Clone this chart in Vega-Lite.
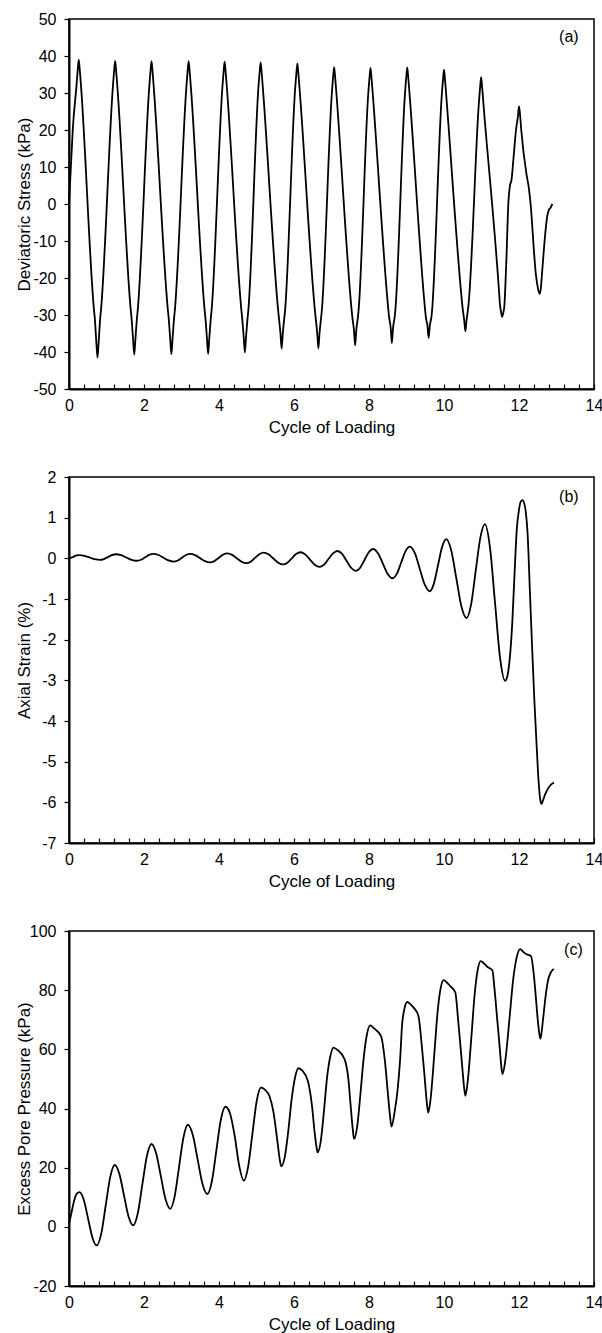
{
"$schema": "https://vega.github.io/schema/vega-lite/v6.json",
"padding": {"left": 14, "top": 10, "right": 6, "bottom": 2},
"background": "white",
"spacing": 88,
"bounds": "flush",
"datasets": {
"stress": [
{"cycle":0,"stress":0},{"cycle":0.05,"stress":10},{"cycle":0.1,"stress":20},{"cycle":0.2,"stress":32},{"cycle":0.235,"stress":36.5},{"cycle":0.26,"stress":39},
{"cycle":0.285,"stress":36.5},{"cycle":0.32,"stress":32},{"cycle":0.67,"stress":-29},{"cycle":0.685,"stress":-30.5},{"cycle":0.73,"stress":-37.5},{"cycle":0.76,"stress":-41.5},
{"cycle":0.79,"stress":-37.5},{"cycle":0.835,"stress":-30.5},{"cycle":0.85,"stress":-29},{"cycle":1.17,"stress":31.7},{"cycle":1.205,"stress":36.2},{"cycle":1.23,"stress":38.7},
{"cycle":1.255,"stress":36.2},{"cycle":1.29,"stress":31.7},{"cycle":1.65,"stress":-29},{"cycle":1.665,"stress":-30.5},{"cycle":1.71,"stress":-36.7},{"cycle":1.74,"stress":-40.7},
{"cycle":1.77,"stress":-36.7},{"cycle":1.815,"stress":-30.5},{"cycle":1.83,"stress":-29},{"cycle":2.14,"stress":31.6},{"cycle":2.175,"stress":36.1},{"cycle":2.2,"stress":38.6},
{"cycle":2.225,"stress":36.1},{"cycle":2.26,"stress":31.6},{"cycle":2.64,"stress":-29},{"cycle":2.655,"stress":-30.5},{"cycle":2.7,"stress":-36.6},{"cycle":2.73,"stress":-40.6},
{"cycle":2.76,"stress":-36.6},{"cycle":2.805,"stress":-30.5},{"cycle":2.82,"stress":-29},{"cycle":3.13,"stress":31.6},{"cycle":3.165,"stress":36.1},{"cycle":3.19,"stress":38.6},
{"cycle":3.215,"stress":36.1},{"cycle":3.25,"stress":31.6},{"cycle":3.62,"stress":-29},{"cycle":3.635,"stress":-30.5},{"cycle":3.68,"stress":-36.5},{"cycle":3.71,"stress":-40.5},
{"cycle":3.74,"stress":-36.5},{"cycle":3.785,"stress":-30.5},{"cycle":3.8,"stress":-29},{"cycle":4.09,"stress":31.5},{"cycle":4.125,"stress":36},{"cycle":4.15,"stress":38.5},
{"cycle":4.175,"stress":36},{"cycle":4.21,"stress":31.5},{"cycle":4.6,"stress":-29},{"cycle":4.615,"stress":-30.5},{"cycle":4.66,"stress":-36.1},{"cycle":4.69,"stress":-40.1},
{"cycle":4.72,"stress":-36.1},{"cycle":4.765,"stress":-30.5},{"cycle":4.78,"stress":-29},{"cycle":5.05,"stress":31.3},{"cycle":5.085,"stress":35.8},{"cycle":5.11,"stress":38.3},
{"cycle":5.135,"stress":35.8},{"cycle":5.17,"stress":31.3},{"cycle":5.58,"stress":-29},{"cycle":5.595,"stress":-30.5},{"cycle":5.64,"stress":-35.1},{"cycle":5.67,"stress":-39.1},
{"cycle":5.7,"stress":-35.1},{"cycle":5.745,"stress":-30.5},{"cycle":5.76,"stress":-29},{"cycle":6.03,"stress":31},{"cycle":6.065,"stress":35.5},{"cycle":6.09,"stress":38},
{"cycle":6.115,"stress":35.5},{"cycle":6.15,"stress":31},{"cycle":6.56,"stress":-29},{"cycle":6.575,"stress":-30.5},{"cycle":6.62,"stress":-35},{"cycle":6.65,"stress":-39},
{"cycle":6.68,"stress":-35},{"cycle":6.725,"stress":-30.5},{"cycle":6.74,"stress":-29},{"cycle":7.01,"stress":30},{"cycle":7.045,"stress":34.5},{"cycle":7.07,"stress":37},
{"cycle":7.095,"stress":34.5},{"cycle":7.13,"stress":30},{"cycle":7.54,"stress":-29},{"cycle":7.555,"stress":-30.5},{"cycle":7.6,"stress":-34.2},{"cycle":7.63,"stress":-38.2},
{"cycle":7.66,"stress":-34.2},{"cycle":7.705,"stress":-30.5},{"cycle":7.72,"stress":-29},{"cycle":7.98,"stress":29.8},{"cycle":8.015,"stress":34.3},{"cycle":8.04,"stress":36.8},
{"cycle":8.065,"stress":34.3},{"cycle":8.1,"stress":29.8},{"cycle":8.52,"stress":-29},{"cycle":8.535,"stress":-30.5},{"cycle":8.58,"stress":-33.6},{"cycle":8.61,"stress":-37.6},
{"cycle":8.64,"stress":-33.6},{"cycle":8.685,"stress":-30.5},{"cycle":8.7,"stress":-29},{"cycle":8.96,"stress":29.9},{"cycle":8.995,"stress":34.4},{"cycle":9.02,"stress":36.9},
{"cycle":9.045,"stress":34.4},{"cycle":9.08,"stress":29.9},{"cycle":9.5,"stress":-29},{"cycle":9.515,"stress":-30.5},{"cycle":9.56,"stress":-33},{"cycle":9.59,"stress":-36.2},
{"cycle":9.62,"stress":-33},{"cycle":9.665,"stress":-30.5},{"cycle":9.68,"stress":-29},{"cycle":9.94,"stress":29.3},{"cycle":9.975,"stress":33.8},{"cycle":10.0,"stress":36.3},
{"cycle":10.025,"stress":33.8},{"cycle":10.06,"stress":29.3},{"cycle":10.48,"stress":-26.5},{"cycle":10.495,"stress":-28},{"cycle":10.54,"stress":-31.5},{"cycle":10.57,"stress":-34.4},
{"cycle":10.6,"stress":-31.5},{"cycle":10.645,"stress":-28},{"cycle":10.66,"stress":-26.5},{"cycle":10.93,"stress":27.3},{"cycle":10.965,"stress":31.8},{"cycle":10.99,"stress":34.3},
{"cycle":11.015,"stress":31.8},{"cycle":11.05,"stress":27.3},{"cycle":11.47,"stress":-24},{"cycle":11.49,"stress":-27},{"cycle":11.52,"stress":-29},{"cycle":11.55,"stress":-30.5},
{"cycle":11.58,"stress":-29.5},{"cycle":11.61,"stress":-27.5},{"cycle":11.66,"stress":-16},{"cycle":11.72,"stress":1},{"cycle":11.76,"stress":5},{"cycle":11.8,"stress":6.5},{"cycle":11.85,"stress":12},{"cycle":11.92,"stress":20},{"cycle":11.975,"stress":24},{"cycle":12.0,"stress":26.4},
{"cycle":12.025,"stress":24.5},{"cycle":12.06,"stress":20},{"cycle":12.2,"stress":8},{"cycle":12.26,"stress":4.5},{"cycle":12.3,"stress":1},{"cycle":12.45,"stress":-19},{"cycle":12.5,"stress":-22.5},{"cycle":12.55,"stress":-24.3},
{"cycle":12.58,"stress":-23},{"cycle":12.62,"stress":-18},{"cycle":12.7,"stress":-8},{"cycle":12.75,"stress":-3.5},{"cycle":12.8,"stress":-1.5},{"cycle":12.84,"stress":-1},{"cycle":12.89,"stress":0}
],
"strain": [
{"cycle":0,"strain":0},{"cycle":0.1,"strain":0.03},{"cycle":0.2,"strain":0.07},{"cycle":0.28,"strain":0.08},
{"cycle":0.415,"strain":0.062},{"cycle":0.55,"strain":0.02},{"cycle":0.685,"strain":-0.022},{"cycle":0.82,"strain":-0.04},
{"cycle":0.928,"strain":-0.02},{"cycle":1.035,"strain":0.03},{"cycle":1.143,"strain":0.08},{"cycle":1.25,"strain":0.10},
{"cycle":1.39,"strain":0.077},{"cycle":1.53,"strain":0.02},{"cycle":1.67,"strain":-0.037},{"cycle":1.81,"strain":-0.06},
{"cycle":1.92,"strain":-0.035},{"cycle":2.03,"strain":0.025},{"cycle":2.14,"strain":0.085},{"cycle":2.25,"strain":0.11},
{"cycle":2.385,"strain":0.082},{"cycle":2.52,"strain":0.015},{"cycle":2.655,"strain":-0.052},{"cycle":2.79,"strain":-0.08},
{"cycle":2.9,"strain":-0.052},{"cycle":3.01,"strain":0.015},{"cycle":3.12,"strain":0.082},{"cycle":3.23,"strain":0.11},
{"cycle":3.363,"strain":0.079},{"cycle":3.495,"strain":0.005},{"cycle":3.628,"strain":-0.069},{"cycle":3.76,"strain":-0.10},
{"cycle":3.875,"strain":-0.068},{"cycle":3.99,"strain":0.01},{"cycle":4.105,"strain":0.088},{"cycle":4.22,"strain":0.12},
{"cycle":4.348,"strain":0.085},{"cycle":4.475,"strain":0},{"cycle":4.603,"strain":-0.085},{"cycle":4.73,"strain":-0.12},
{"cycle":4.845,"strain":-0.082},{"cycle":4.96,"strain":0.01},{"cycle":5.075,"strain":0.102},{"cycle":5.19,"strain":0.14},
{"cycle":5.32,"strain":0.098},{"cycle":5.45,"strain":-0.005},{"cycle":5.58,"strain":-0.108},{"cycle":5.71,"strain":-0.15},
{"cycle":5.825,"strain":-0.106},{"cycle":5.94,"strain":0},{"cycle":6.055,"strain":0.106},{"cycle":6.17,"strain":0.15},
{"cycle":6.298,"strain":0.097},{"cycle":6.425,"strain":-0.03},{"cycle":6.553,"strain":-0.157},{"cycle":6.68,"strain":-0.21},
{"cycle":6.8,"strain":-0.153},{"cycle":6.92,"strain":-0.015},{"cycle":7.04,"strain":0.123},{"cycle":7.16,"strain":0.18},
{"cycle":7.283,"strain":0.108},{"cycle":7.405,"strain":-0.065},{"cycle":7.528,"strain":-0.238},{"cycle":7.65,"strain":-0.31},
{"cycle":7.765,"strain":-0.231},{"cycle":7.88,"strain":-0.04},{"cycle":7.995,"strain":0.151},{"cycle":8.11,"strain":0.23},
{"cycle":8.24,"strain":0.125},{"cycle":8.37,"strain":-0.13},{"cycle":8.5,"strain":-0.385},{"cycle":8.63,"strain":-0.49},
{"cycle":8.745,"strain":-0.376},{"cycle":8.86,"strain":-0.10},{"cycle":8.975,"strain":0.176},{"cycle":9.09,"strain":0.29},
{"cycle":9.223,"strain":0.129},{"cycle":9.355,"strain":-0.26},{"cycle":9.488,"strain":-0.649},{"cycle":9.62,"strain":-0.81},
{"cycle":9.73,"strain":-0.622},{"cycle":9.84,"strain":-0.17},{"cycle":9.95,"strain":0.282},{"cycle":10.06,"strain":0.47},
{"cycle":10.195,"strain":0.186},{"cycle":10.33,"strain":-0.5},{"cycle":10.465,"strain":-1.186},{"cycle":10.6,"strain":-1.47},
{"cycle":10.723,"strain":-1.132},{"cycle":10.845,"strain":-0.315},{"cycle":10.968,"strain":0.502},{"cycle":11.09,"strain":0.84},
{"cycle":11.225,"strain":0.276},{"cycle":11.36,"strain":-1.085},{"cycle":11.495,"strain":-2.445},{"cycle":11.63,"strain":-3.01},
{"cycle":11.7,"strain":-2.85},{"cycle":11.76,"strain":-2.4},{"cycle":11.82,"strain":-1.6},{"cycle":11.88,"strain":-0.4},{"cycle":11.94,"strain":0.7},{"cycle":12.0,"strain":1.2},{"cycle":12.05,"strain":1.4},{"cycle":12.09,"strain":1.43},
{"cycle":12.13,"strain":1.38},{"cycle":12.18,"strain":1.15},{"cycle":12.23,"strain":0.6},{"cycle":12.29,"strain":-0.8},{"cycle":12.35,"strain":-2.2},{"cycle":12.41,"strain":-3.5},{"cycle":12.47,"strain":-4.6},{"cycle":12.52,"strain":-5.45},{"cycle":12.57,"strain":-5.95},{"cycle":12.6,"strain":-6.04},
{"cycle":12.64,"strain":-5.95},{"cycle":12.7,"strain":-5.8},{"cycle":12.78,"strain":-5.65},{"cycle":12.86,"strain":-5.56},{"cycle":12.93,"strain":-5.51}
],
"pore": [
{"cycle":0,"pore":1},{"cycle":0.07,"pore":5},{"cycle":0.14,"pore":9},{"cycle":0.21,"pore":11.2},{"cycle":0.28,"pore":11.7},
{"cycle":0.395,"pore":9.06},{"cycle":0.51,"pore":2.7},{"cycle":0.625,"pore":-3.66},{"cycle":0.74,"pore":-6.3},
{"cycle":0.86,"pore":-2.3},{"cycle":0.98,"pore":7.3},{"cycle":1.1,"pore":16.9},{"cycle":1.22,"pore":20.9},
{"cycle":1.343,"pore":17.9},{"cycle":1.465,"pore":10.7},{"cycle":1.588,"pore":3.5},{"cycle":1.71,"pore":0.5},
{"cycle":1.833,"pore":4.5},{"cycle":1.955,"pore":14.25},{"cycle":2.078,"pore":24.0},{"cycle":2.2,"pore":28.0},
{"cycle":2.325,"pore":24.8},{"cycle":2.45,"pore":17.05},{"cycle":2.575,"pore":9.3},{"cycle":2.7,"pore":6.1},
{"cycle":2.818,"pore":10.3},{"cycle":2.935,"pore":20.3},{"cycle":3.053,"pore":30.3},{"cycle":3.17,"pore":34.5},
{"cycle":3.3,"pore":31.1},{"cycle":3.43,"pore":22.8},{"cycle":3.56,"pore":14.5},{"cycle":3.69,"pore":11.1},
{"cycle":3.81,"pore":15.4},{"cycle":3.93,"pore":25.85},{"cycle":4.05,"pore":36.3},{"cycle":4.17,"pore":40.6},
{"cycle":4.29,"pore":38.5},{"cycle":4.415,"pore":31},{"cycle":4.54,"pore":20.5},{"cycle":4.66,"pore":15.6},
{"cycle":4.775,"pore":20.2},{"cycle":4.89,"pore":31.35},{"cycle":5.005,"pore":42.5},{"cycle":5.12,"pore":47.1},
{"cycle":5.228,"pore":46.3},{"cycle":5.352,"pore":44.0},{"cycle":5.449,"pore":39.0},{"cycle":5.552,"pore":29.5},{"cycle":5.617,"pore":23.0},{"cycle":5.66,"pore":20.5},
{"cycle":5.752,"pore":23.5},{"cycle":5.844,"pore":32},{"cycle":5.936,"pore":43},{"cycle":6.028,"pore":50.5},{"cycle":6.12,"pore":53.6},
{"cycle":6.222,"pore":52.8},{"cycle":6.37,"pore":49.3},{"cycle":6.48,"pore":40.9},{"cycle":6.554,"pore":31.5},{"cycle":6.6,"pore":27},{"cycle":6.63,"pore":25.2},
{"cycle":6.714,"pore":29},{"cycle":6.798,"pore":39},{"cycle":6.882,"pore":50.5},{"cycle":6.966,"pore":57.5},{"cycle":7.05,"pore":60.6},
{"cycle":7.16,"pore":59.8},{"cycle":7.35,"pore":56.6},{"cycle":7.45,"pore":49.9},{"cycle":7.517,"pore":40},{"cycle":7.567,"pore":33},{"cycle":7.6,"pore":29.7},
{"cycle":7.686,"pore":34},{"cycle":7.772,"pore":45},{"cycle":7.858,"pore":57},{"cycle":7.944,"pore":65},{"cycle":8.03,"pore":68.1},
{"cycle":8.144,"pore":67},{"cycle":8.32,"pore":64.5},{"cycle":8.42,"pore":56.6},{"cycle":8.497,"pore":46},{"cycle":8.56,"pore":37.5},{"cycle":8.6,"pore":33.9},
{"cycle":8.68,"pore":38.6},{"cycle":8.76,"pore":46},{"cycle":8.83,"pore":56.6},{"cycle":8.88,"pore":67.9},{"cycle":8.95,"pore":74},{"cycle":9.02,"pore":76},
{"cycle":9.1,"pore":75.3},{"cycle":9.19,"pore":74.1},{"cycle":9.32,"pore":71.2},{"cycle":9.4,"pore":62.3},{"cycle":9.48,"pore":51.1},{"cycle":9.55,"pore":41},{"cycle":9.58,"pore":38.6},
{"cycle":9.64,"pore":43},{"cycle":9.744,"pore":58.8},{"cycle":9.826,"pore":72.2},{"cycle":9.908,"pore":80.5},{"cycle":9.99,"pore":83.4},
{"cycle":10.077,"pore":82.6},{"cycle":10.164,"pore":81.4},{"cycle":10.3,"pore":79.3},{"cycle":10.384,"pore":68.9},{"cycle":10.466,"pore":57.2},{"cycle":10.54,"pore":46.7},{"cycle":10.57,"pore":44.3},
{"cycle":10.63,"pore":48.9},{"cycle":10.734,"pore":64.8},{"cycle":10.816,"pore":78.4},{"cycle":10.898,"pore":86.8},{"cycle":10.98,"pore":89.8},
{"cycle":11.067,"pore":89.0},{"cycle":11.154,"pore":87.9},{"cycle":11.29,"pore":86.7},{"cycle":11.35,"pore":80},{"cycle":11.42,"pore":70},{"cycle":11.49,"pore":60},{"cycle":11.53,"pore":54},{"cycle":11.56,"pore":51.6},
{"cycle":11.63,"pore":55.8},{"cycle":11.748,"pore":70.6},{"cycle":11.842,"pore":83.3},{"cycle":11.936,"pore":91},{"cycle":12.03,"pore":93.9},
{"cycle":12.11,"pore":93.0},{"cycle":12.19,"pore":92.2},{"cycle":12.32,"pore":91.5},{"cycle":12.38,"pore":87},{"cycle":12.44,"pore":79},{"cycle":12.5,"pore":70},{"cycle":12.54,"pore":65.5},{"cycle":12.57,"pore":63.6},
{"cycle":12.6,"pore":65.5},{"cycle":12.64,"pore":70},{"cycle":12.67,"pore":73.5},{"cycle":12.72,"pore":79},{"cycle":12.78,"pore":83.6},{"cycle":12.85,"pore":86},{"cycle":12.93,"pore":87.2}
]
},
"vconcat": [
{
"width": 525, "height": 370,
"layer": [
{"data": {"name": "stress"},
 "mark": {"type": "line", "color": "#000", "strokeWidth": 1.8, "interpolate": "monotone"},
 "encoding": {
  "x": {"field": "cycle", "type": "quantitative", "scale": {"domain": [0, 14], "nice": false},
        "axis": {"title": "Cycle of Loading", "labelOverlap": false, "values": [0,0.4,0.8,1.2,1.6,2,2.4,2.8,3.2,3.6,4,4.4,4.8,5.2,5.6,6,6.4,6.8,7.2,7.6,8,8.4,8.8,9.2,9.6,10,10.4,10.8,11.2,11.6,12,12.4,12.8,13.2,13.6,14], "labelExpr": "datum.value % 2 === 0 ? '' + datum.value : ''"}},
  "y": {"field": "stress", "type": "quantitative", "scale": {"domain": [-50, 50], "nice": false, "zero": false},
        "axis": {"title": "Deviatoric Stress (kPa)", "labelOverlap": false, "values": [-50,-40,-30,-20,-10,0,10,20,30,40,50], "labelExpr": "'' + datum.value"}}
 }},
{"data": {"values": [{"label": "(a)"}]},
 "mark": {"type": "text", "fontSize": 16, "font": "Liberation Sans", "color": "#000"},
 "encoding": {
  "x": {"datum": 13.33, "type": "quantitative", "axis": {"title": "Cycle of Loading", "labelOverlap": false, "values": [0,0.4,0.8,1.2,1.6,2,2.4,2.8,3.2,3.6,4,4.4,4.8,5.2,5.6,6,6.4,6.8,7.2,7.6,8,8.4,8.8,9.2,9.6,10,10.4,10.8,11.2,11.6,12,12.4,12.8,13.2,13.6,14], "labelExpr": "datum.value % 2 === 0 ? '' + datum.value : ''"}},
  "y": {"datum": 45.1, "type": "quantitative", "axis": {"title": "Deviatoric Stress (kPa)", "labelOverlap": false, "values": [-50,-40,-30,-20,-10,0,10,20,30,40,50], "labelExpr": "'' + datum.value"}},
  "text": {"field": "label"}}}
]
},
{
"width": 525, "height": 366,
"layer": [
{"data": {"name": "strain"},
 "mark": {"type": "line", "color": "#000", "strokeWidth": 1.8, "interpolate": "monotone"},
 "encoding": {
  "x": {"field": "cycle", "type": "quantitative", "scale": {"domain": [0, 14], "nice": false},
        "axis": {"title": "Cycle of Loading", "labelOverlap": false, "values": [0,0.4,0.8,1.2,1.6,2,2.4,2.8,3.2,3.6,4,4.4,4.8,5.2,5.6,6,6.4,6.8,7.2,7.6,8,8.4,8.8,9.2,9.6,10,10.4,10.8,11.2,11.6,12,12.4,12.8,13.2,13.6,14], "labelExpr": "datum.value % 2 === 0 ? '' + datum.value : ''"}},
  "y": {"field": "strain", "type": "quantitative", "scale": {"domain": [-7, 2], "nice": false, "zero": false},
        "axis": {"title": "Axial Strain (%)", "labelOverlap": false, "values": [-7,-6,-5,-4,-3,-2,-1,0,1,2], "labelExpr": "'' + datum.value"}}
 }},
{"data": {"values": [{"label": "(b)"}]},
 "mark": {"type": "text", "fontSize": 16, "font": "Liberation Sans", "color": "#000"},
 "encoding": {
  "x": {"datum": 13.33, "type": "quantitative", "axis": {"title": "Cycle of Loading", "labelOverlap": false, "values": [0,0.4,0.8,1.2,1.6,2,2.4,2.8,3.2,3.6,4,4.4,4.8,5.2,5.6,6,6.4,6.8,7.2,7.6,8,8.4,8.8,9.2,9.6,10,10.4,10.8,11.2,11.6,12,12.4,12.8,13.2,13.6,14], "labelExpr": "datum.value % 2 === 0 ? '' + datum.value : ''"}},
  "y": {"datum": 1.5, "type": "quantitative", "axis": {"title": "Axial Strain (%)", "labelOverlap": false, "values": [-7,-6,-5,-4,-3,-2,-1,0,1,2], "labelExpr": "'' + datum.value"}},
  "text": {"field": "label"}}}
]
},
{
"width": 525, "height": 355,
"layer": [
{"data": {"name": "pore"},
 "mark": {"type": "line", "color": "#000", "strokeWidth": 1.8, "interpolate": "monotone"},
 "encoding": {
  "x": {"field": "cycle", "type": "quantitative", "scale": {"domain": [0, 14], "nice": false},
        "axis": {"title": "Cycle of Loading", "labelOverlap": false, "values": [0,0.4,0.8,1.2,1.6,2,2.4,2.8,3.2,3.6,4,4.4,4.8,5.2,5.6,6,6.4,6.8,7.2,7.6,8,8.4,8.8,9.2,9.6,10,10.4,10.8,11.2,11.6,12,12.4,12.8,13.2,13.6,14], "labelExpr": "datum.value % 2 === 0 ? '' + datum.value : ''"}},
  "y": {"field": "pore", "type": "quantitative", "scale": {"domain": [-20, 100], "nice": false, "zero": false},
        "axis": {"title": "Excess Pore Pressure (kPa)", "labelOverlap": false, "values": [-20,0,20,40,60,80,100], "labelExpr": "'' + datum.value"}}
 }},
{"data": {"values": [{"label": "(c)"}]},
 "mark": {"type": "text", "fontSize": 16, "font": "Liberation Sans", "color": "#000"},
 "encoding": {
  "x": {"datum": 13.45, "type": "quantitative", "axis": {"title": "Cycle of Loading", "labelOverlap": false, "values": [0,0.4,0.8,1.2,1.6,2,2.4,2.8,3.2,3.6,4,4.4,4.8,5.2,5.6,6,6.4,6.8,7.2,7.6,8,8.4,8.8,9.2,9.6,10,10.4,10.8,11.2,11.6,12,12.4,12.8,13.2,13.6,14], "labelExpr": "datum.value % 2 === 0 ? '' + datum.value : ''"}},
  "y": {"datum": 93.6, "type": "quantitative", "axis": {"title": "Excess Pore Pressure (kPa)", "labelOverlap": false, "values": [-20,0,20,40,60,80,100], "labelExpr": "'' + datum.value"}},
  "text": {"field": "label"}}}
]
}
],
"config": {
 "font": "Liberation Sans",
 "view": {"stroke": "#000", "strokeWidth": 1.5},
 "axis": {"domainColor": "#000", "domainWidth": 2, "tickColor": "#000", "tickWidth": 1.2, "labelColor": "#000", "titleColor": "#000", "labelFontSize": 16, "titleFontSize": 17, "titleFontWeight": "normal", "grid": false, "labelFont": "Liberation Sans", "titleFont": "Liberation Sans", "labelOverlap": false, "labelSeparation": 0, "labelBound": false},
 "axisX": {"tickSize": -5, "labelPadding": 13, "titlePadding": 6, "labelFlush": false},
 "axisY": {"tickSize": 5, "labelPadding": 8, "titleX": -36}
}
}
